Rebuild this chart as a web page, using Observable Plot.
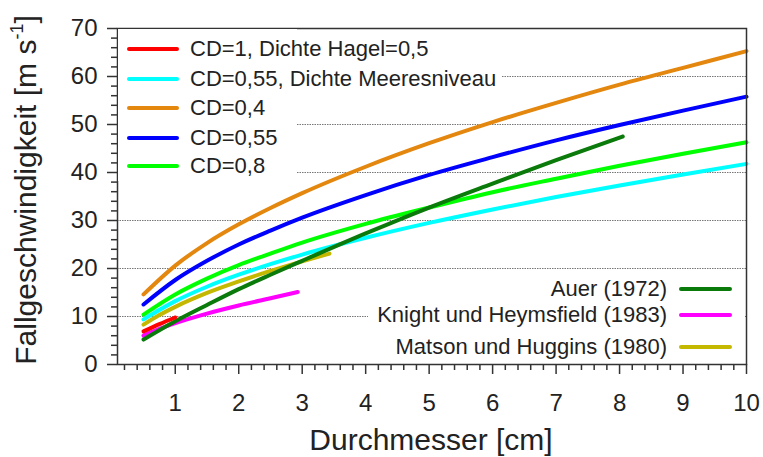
<!DOCTYPE html>
<html>
<head>
<meta charset="utf-8">
<script src="https://cdn.jsdelivr.net/npm/d3@7"></script>
<script src="https://cdn.jsdelivr.net/npm/@observablehq/plot@0.6"></script>
<style>
  html, body { margin: 0; padding: 0; background: #fff; }
  #wrap { position: relative; width: 763px; height: 457px; font-family: "Liberation Sans", Arial, sans-serif; color: #222; }
  #wrap svg { position: absolute; left: 0; top: 0; }
  .ov { position: absolute; white-space: nowrap; line-height: 1; }
  .sw { position: absolute; height: 4px; border-radius: 2px; }
</style>
</head>
<body>
<div id="wrap"></div>
<script>
// ---- data (diameter in cm, fall speed in m/s) ----
const dCD = [0.5, 1, 1.5, 2, 2.5, 3, 4, 5, 6, 7, 8, 9, 10];
const vCD04 = [14.6, 20.6, 25.3, 29.2, 32.6, 35.7, 41.2, 46.1, 50.5, 54.5, 58.3, 61.8, 65.3];
const vCD055 = [12.5, 17.6, 21.6, 25.0, 27.9, 30.6, 35.3, 39.5, 43.2, 46.7, 49.9, 52.9, 55.8];
const vCD08 = [10.4, 14.6, 17.9, 20.7, 23.1, 25.4, 29.3, 32.7, 35.9, 38.7, 41.4, 43.9, 46.3];
const vCD055sea = [9.4, 13.2, 16.2, 18.7, 20.9, 22.9, 26.4, 29.5, 32.3, 34.9, 37.3, 39.6, 41.8];
const dHail = [0.5, 0.75, 1];
const vHail = [6.9, 8.4, 9.8];
const dAuer = [0.5, 1, 1.5, 2, 2.5, 3, 4, 5, 6, 7, 8.05];
const vAuer = [5.2, 9.0, 12.4, 15.7, 18.7, 21.6, 27.3, 32.7, 37.7, 42.6, 47.5];
const dKnight = [0.5, 0.75, 1, 1.5, 2, 2.5, 2.93];
const vKnight = [6.0, 7.4, 8.6, 10.6, 12.3, 13.8, 15.1];
const dMatson = [0.5, 0.75, 1, 1.5, 2, 2.5, 3, 3.43];
const vMatson = [8.3, 10.3, 12.0, 14.9, 17.3, 19.5, 21.5, 23.1];

const xTicks = [1, 2, 3, 4, 5, 6, 7, 8, 9, 10];
const yTicks = [0, 10, 20, 30, 40, 50, 60, 70];
const gridY = [10, 20, 30, 40, 50, 60];

const legendTop = ["CD=1, Dichte Hagel=0,5", "CD=0,55, Dichte Meeresniveau", "CD=0,4", "CD=0,55", "CD=0,8"];
const legendTopColors = ["#ff0000", "#00ffff", "#e3870f", "#0000ff", "#00ff00"];
const legendBottom = ["Auer (1972)", "Knight und Heymsfield (1983)", "Matson und Huggins (1980)"];
const legendBottomColors = ["#0a7a0a", "#ff00ff", "#c4b800"];

const xTitle = "Durchmesser [cm]";
const yTitle = "Fallgeschwindigkeit [m s<sup>-1</sup>]";

// minor ticks
const xMinor = d3.range(1, 50).map(i => i / 5).filter(v => Math.abs(v - Math.round(v)) > 1e-9);
const yMinor = d3.range(1, 35).map(i => i * 2).filter(v => v % 10 !== 0);

const rows = (d, v) => d.map((x, i) => ({x, v: v[i]}));
const lineOpts = (color) => ({x: "x", y: "v", stroke: color, strokeWidth: 4, curve: "monotone-x", strokeLinecap: "round", strokeLinejoin: "round"});

const plot = Plot.plot({
  width: 763,
  height: 457,
  marginLeft: 117,
  marginRight: 17,
  marginTop: 28,
  marginBottom: 93,
  style: {fontFamily: "Liberation Sans, Arial, sans-serif", fontSize: "24px", color: "#222", background: "transparent"},
  x: {domain: [0.09, 10]},
  y: {domain: [0, 70]},
  marks: [
    Plot.ruleY(gridY, {stroke: "#777", strokeWidth: 1, strokeDasharray: "1.5,1"}),
    Plot.line(rows(dMatson, vMatson), lineOpts(legendBottomColors[2])),
    Plot.line(rows(dKnight, vKnight), lineOpts(legendBottomColors[1])),
    Plot.line(rows(dCD, vCD055sea), lineOpts(legendTopColors[1])),
    Plot.line(rows(dCD, vCD08), lineOpts(legendTopColors[4])),
    Plot.line(rows(dCD, vCD055), lineOpts(legendTopColors[3])),
    Plot.line(rows(dCD, vCD04), lineOpts(legendTopColors[2])),
    Plot.line(rows(dAuer, vAuer), lineOpts(legendBottomColors[0])),
    Plot.line(rows(dHail, vHail), lineOpts(legendTopColors[0])),
    Plot.frame({stroke: "#333", strokeWidth: 1.5}),
    Plot.axisX(xTicks, {tickSize: 10, tickPadding: 19, fontSize: 24, label: null, stroke: "#333", strokeWidth: 1.5}),
    Plot.axisX(xMinor, {tickSize: 6, text: null, label: null, stroke: "#333", strokeWidth: 1.5}),
    Plot.axisY(yTicks, {tickSize: 10, tickPadding: 10, fontSize: 24, label: null, stroke: "#333", strokeWidth: 1.5}),
    Plot.axisY(yMinor, {tickSize: 6, text: null, label: null, stroke: "#333", strokeWidth: 1.5})
  ]
});

const wrap = document.getElementById("wrap");
wrap.appendChild(plot);

function el(cls, css, html) {
  const e = document.createElement("div");
  e.className = cls;
  Object.assign(e.style, css);
  if (html != null) e.innerHTML = html;
  wrap.appendChild(e);
  return e;
}

// axis titles
el("ov", {left: "431px", top: "440px", transform: "translate(-50%,-50%)", fontSize: "30px"}, xTitle);
el("ov", {left: "26px", top: "190px", transform: "translate(-50%,-50%) rotate(-90deg)", fontSize: "30px"}, yTitle.replace("<sup>", "<sup style='font-size:0.6em;line-height:0;vertical-align:0.75em'>"));

// upper legend
el("ov", {left: "118px", top: "29px", width: "179px", height: "152px", background: "#fff"});
const topRowsY = [49.3, 78.6, 107.5, 137.5, 165.8];
legendTop.forEach((t, i) => {
  el("sw", {left: "127px", width: "52px", top: (topRowsY[i] - 2) + "px", background: legendTopColors[i]});
  el("ov", {left: "190px", top: topRowsY[i] + "px", transform: "translateY(-50%)", fontSize: "22px", background: "#fff", paddingRight: "6px"}, t);
});

// lower legend
el("ov", {left: "368px", top: "276px", width: "377px", height: "87px", background: "#fff"});
const botRowsY = [288.6, 315.3, 347];
legendBottom.forEach((t, i) => {
  el("sw", {left: "679px", width: "53px", top: (botRowsY[i] - 2) + "px", background: legendBottomColors[i]});
  el("ov", {right: (763 - 667) + "px", top: botRowsY[i] + "px", transform: "translateY(-50%)", fontSize: "22px", textAlign: "right"}, t);
});
</script>
</body>
</html>
